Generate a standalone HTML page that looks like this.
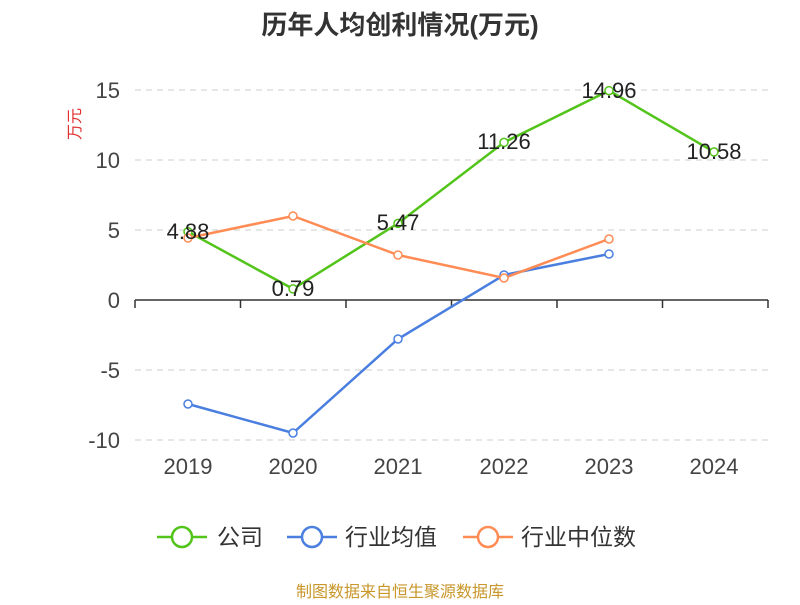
<!DOCTYPE html>
<html><head><meta charset="utf-8"><style>body{margin:0;background:#fff}</style></head><body>
<svg width="800" height="600" xmlns="http://www.w3.org/2000/svg" font-family="Liberation Sans, Noto Sans CJK SC, sans-serif">
<text x="400" y="34" text-anchor="middle" font-size="26" font-weight="bold" fill="#333">历年人均创利情况(万元)</text>
<text transform="translate(80,124) rotate(-90)" text-anchor="middle" font-size="16" fill="#e03030">万元</text>
<g stroke="#ccc" stroke-dasharray="6,5" stroke-width="1">
<line x1="135" y1="90" x2="768" y2="90"/><line x1="135" y1="160" x2="768" y2="160"/><line x1="135" y1="230" x2="768" y2="230"/><line x1="135" y1="370" x2="768" y2="370"/><line x1="135" y1="440" x2="768" y2="440"/>
</g>
<g stroke="#333" stroke-width="1.5"><line x1="135" y1="300" x2="768" y2="300"/>
<line x1="135" y1="300" x2="135" y2="308"/><line x1="240.5" y1="300" x2="240.5" y2="308"/><line x1="346" y1="300" x2="346" y2="308"/><line x1="451.5" y1="300" x2="451.5" y2="308"/><line x1="557" y1="300" x2="557" y2="308"/><line x1="662.5" y1="300" x2="662.5" y2="308"/><line x1="768" y1="300" x2="768" y2="308"/></g>
<g font-size="22" fill="#444" text-anchor="end">
<text x="120" y="98">15</text><text x="120" y="168">10</text><text x="120" y="238">5</text><text x="120" y="308">0</text><text x="120" y="378">-5</text><text x="120" y="448">-10</text></g>
<g font-size="22" fill="#444" text-anchor="middle">
<text x="188" y="474">2019</text><text x="293" y="474">2020</text><text x="398" y="474">2021</text><text x="504" y="474">2022</text><text x="609" y="474">2023</text><text x="714" y="474">2024</text></g>
<g fill="#fff" stroke-width="2.5">
<polyline fill="none" stroke="#52c41a" points="188,231.7 293,288.9 398,223.4 504,142.4 609,90.6 714,151.9"/>
<polyline fill="none" stroke="#4a7fe0" points="188,404 293,433 398,339 504,275 609,254"/>
<polyline fill="none" stroke="#ff8c55" points="188,238 293,216 398,255 504,278 609,239"/>
<g stroke="#52c41a" stroke-width="1.5"><circle cx="188" cy="231.7" r="4"/><circle cx="293" cy="288.9" r="4"/><circle cx="398" cy="223.4" r="4"/><circle cx="504" cy="142.4" r="4"/><circle cx="609" cy="90.6" r="4"/><circle cx="714" cy="151.9" r="4"/></g>
<g stroke="#4a7fe0" stroke-width="1.5"><circle cx="188" cy="404" r="4"/><circle cx="293" cy="433" r="4"/><circle cx="398" cy="339" r="4"/><circle cx="504" cy="275" r="4"/><circle cx="609" cy="254" r="4"/></g>
<g stroke="#ff8c55" stroke-width="1.5"><circle cx="188" cy="238" r="4"/><circle cx="293" cy="216" r="4"/><circle cx="398" cy="255" r="4"/><circle cx="504" cy="278" r="4"/><circle cx="609" cy="239" r="4"/></g>
</g>
<g font-size="22" fill="#222" text-anchor="middle">
<text x="188" y="239">4.88</text><text x="293" y="296">0.79</text><text x="398" y="230">5.47</text><text x="504" y="149">11.26</text><text x="609" y="98">14.96</text><text x="714" y="159">10.58</text></g>
<g stroke-width="2.5" fill="#fff">
<line x1="157" y1="537" x2="207" y2="537" stroke="#52c41a"/><circle cx="182" cy="537" r="10" stroke="#52c41a"/>
<line x1="287" y1="537" x2="337" y2="537" stroke="#4a7fe0"/><circle cx="312" cy="537" r="10" stroke="#4a7fe0"/>
<line x1="463" y1="537" x2="513" y2="537" stroke="#ff8c55"/><circle cx="488" cy="537" r="10" stroke="#ff8c55"/></g>
<g font-size="23" fill="#333"><text x="217" y="545">公司</text><text x="345" y="545">行业均值</text><text x="521" y="545">行业中位数</text></g>
<text x="400" y="597" text-anchor="middle" font-size="16" fill="#c8962a">制图数据来自恒生聚源数据库</text>
</svg>
</body></html>
